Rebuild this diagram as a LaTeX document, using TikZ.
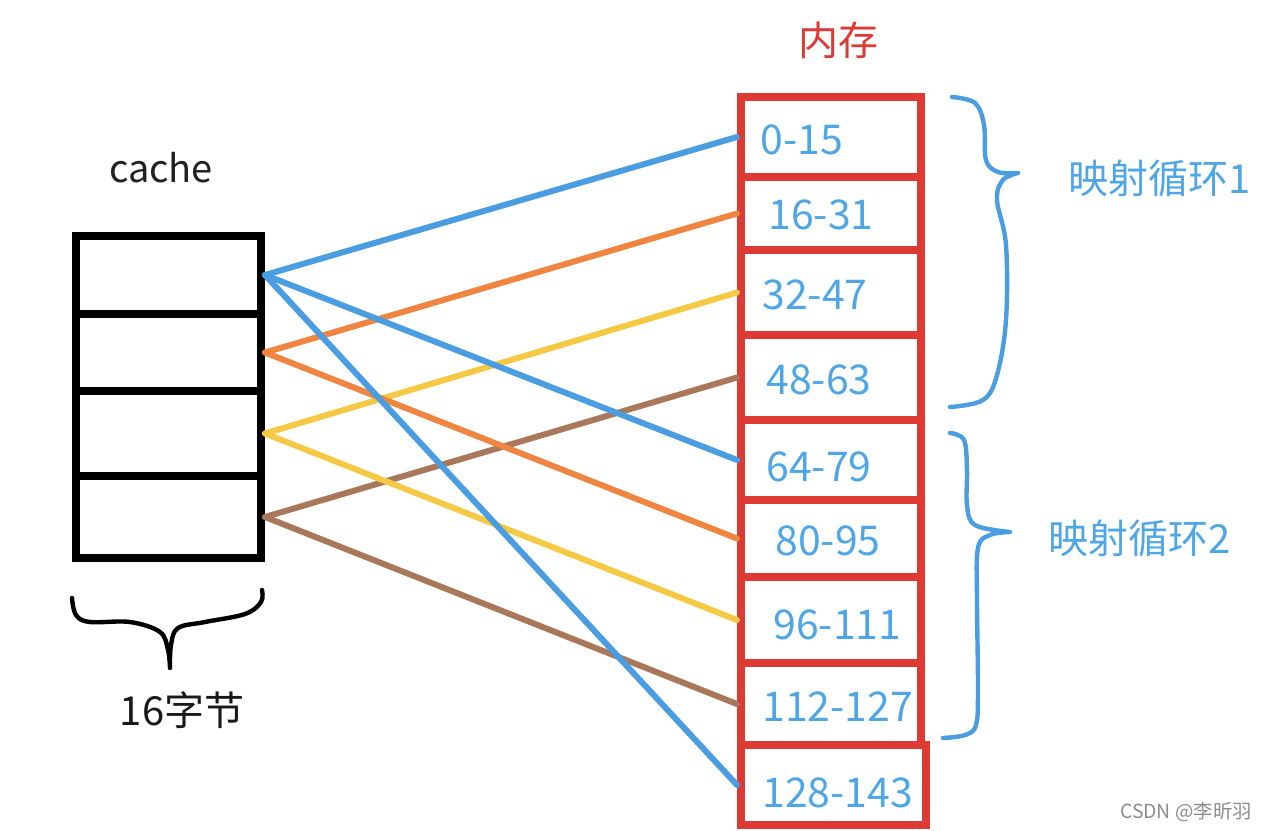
\documentclass[tikz,border=0pt]{standalone}
\usepackage{fontspec}
\setmainfont{Noto Sans CJK SC}
\definecolor{memred}{HTML}{DC3A33}
\definecolor{txtblue}{HTML}{4FA6E6}
\definecolor{lblue}{HTML}{4A9DE0}
\definecolor{lorange}{HTML}{EF8540}
\definecolor{lyellow}{HTML}{F6C944}
\definecolor{lbrown}{HTML}{A9785A}
\begin{document}
\begin{tikzpicture}[x=0.5pt,y=-0.5pt,
  memcell/.style={draw=memred,line width=4pt,inner sep=0pt,minimum width=90pt},
  cachecell/.style={draw=black,line width=4pt,inner sep=0pt,minimum width=92.5pt},
  numlbl/.style={anchor=west,inner sep=0pt,text=txtblue,font=\fontsize{20.5}{24}\selectfont},
  conn/.style={line width=3pt,line cap=round},
  bracepath/.style={line width=2.2pt,line cap=round,line join=round},
  cjklbl/.style={inner sep=0pt,font=\fontsize{20}{24}\selectfont}]
\useasboundingbox (0,0) rectangle (1266,831);
% memory cells
\node[memcell,minimum height=40pt]   (m1) at (831,137) {};
\node[memcell,minimum height=36.5pt] (m2) at (831,213.5) {};
\node[memcell,minimum height=42.5pt] (m3) at (831,292.5) {};
\node[memcell,minimum height=42.5pt] (m4) at (831,377.5) {};
\node[memcell,minimum height=40pt]   (m5) at (831,460) {};
\node[memcell,minimum height=38.5pt] (m6) at (831,538.5) {};
\node[memcell,minimum height=43pt]   (m7) at (831,620) {};
\node[memcell,minimum height=41pt]   (m8) at (831,704) {};
\node[memcell,minimum height=40pt,minimum width=92.5pt] (m9) at (833.5,785) {};
% memory labels
\node[numlbl] (t1) at (760,140) {0-15};
\node[numlbl] (t2) at (768,215) {16-31};
\node[numlbl] (t3) at (762,295) {32-47};
\node[numlbl] (t4) at (766,380) {48-63};
\node[numlbl] (t5) at (766,467) {64-79};
\node[numlbl] (t6) at (775,541) {80-95};
\node[numlbl] (t7) at (773,625) {96-111};
\node[numlbl] (t8) at (762,707) {112-127};
\node[numlbl] (t9) at (762,793) {128-143};
% cache cells
\node[cachecell,minimum height=39pt]   (c1) at (168.5,275) {};
\node[cachecell,minimum height=38.5pt] (c2) at (168.5,352.5) {};
\node[cachecell,minimum height=42.5pt] (c3) at (168.5,433.5) {};
\node[cachecell,minimum height=41pt]   (c4) at (168.5,517) {};
% titles
\node[cjklbl,text=memred] (mem) at (838,40) {内存};
\node[inner sep=0pt,text=black!87,font=\fontsize{19}{22}\selectfont] (cache) at (161,168) {cache};
\node[cjklbl,text=black!90] (bytes) at (182,710) {16字节};
\node[cjklbl,text=txtblue] (loop1) at (1160,178) {映射循环1};
\node[cjklbl,text=txtblue] (loop2) at (1140,538) {映射循环2};
\node[inner sep=0pt,text=black!45,font=\fontsize{9.7}{12}\selectfont] (wm) at (1186,812) {CSDN @李昕羽};
% braces
\draw[bracepath,lblue] plot[smooth,tension=0.6] coordinates {(952,97) (975,103) (984,125) (986,160) (998,172) (1018,173)}
  plot[smooth,tension=0.6] coordinates {(1018,173) (1003,180) (997,200) (1006,245) (1006,320) (997,375) (983,400) (950,407)};
\draw[bracepath,lblue] plot[smooth,tension=0.6] coordinates {(950,433) (964,440) (967,470) (967,505) (975,525) (1010,532)}
  plot[smooth,tension=0.6] coordinates {(1010,532) (990,535) (978,548) (977,600) (978,690) (976,725) (965,735) (943,738)};
\draw[bracepath,black] plot[smooth,tension=0.6] coordinates {(72,598) (76,615) (90,622) (130,622) (160,632) (168,650) (170,668)}
  plot[smooth,tension=0.6] coordinates {(170,668) (171,645) (178,628) (205,622) (245,614) (261,602) (262,590)};
% connectors
\draw[conn,lblue] (c1.east) -- (m1.west);
\draw[conn,lorange] (c2.east) -- (m2.west);
\draw[conn,lyellow] (c3.east) -- (m3.west);
\draw[conn,lbrown] (c4.east) -- (m4.west);
\draw[conn,lblue] (c1.east) -- (m5.west);
\draw[conn,lorange] (c2.east) -- (m6.west);
\draw[conn,lyellow] (c3.east) -- (m7.west);
\draw[conn,lbrown] (c4.east) -- (m8.west);
\draw[conn,lblue] (c1.east) -- (m9.west);
\end{tikzpicture}
\end{document}
